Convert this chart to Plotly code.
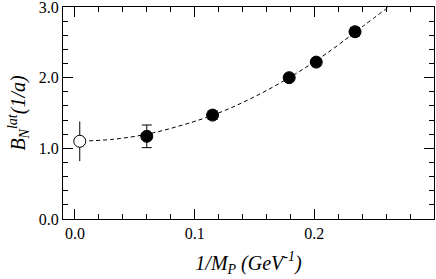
import plotly.graph_objects as go

# Data
x_open = [0.004]
y_open = [1.10]
err_open = [0.28]

x_lat = [0.060, 0.115, 0.179, 0.2016, 0.234]
y_lat = [1.17, 1.47, 2.00, 2.22, 2.65]
err_lat = [0.16, 0.06, 0.05, 0.05, 0.06]

# dashed fit curve
x_fit = [0.0, 0.03, 0.06, 0.09, 0.12, 0.15, 0.18, 0.21, 0.24, 0.262]
y_fit = [1.10, 1.125, 1.20, 1.33, 1.50, 1.73, 2.01, 2.34, 2.72, 3.0]

FONT = "Liberation Serif"

fig = go.Figure()
fig.add_trace(go.Scatter(x=x_fit, y=y_fit, mode="lines", line=dict(color="black", width=1, dash="4px,3px", shape="spline"),
                         showlegend=False, hoverinfo="skip"))
fig.add_trace(go.Scatter(x=x_open, y=y_open, mode="markers",
                         marker=dict(symbol="circle", size=12, color="white", line=dict(color="black", width=1)),
                         error_y=dict(type="data", array=err_open, color="black", thickness=1, width=0),
                         showlegend=False))
fig.add_trace(go.Scatter(x=x_lat, y=y_lat, mode="markers",
                         marker=dict(symbol="circle", size=12, color="black", line=dict(color="black", width=1)),
                         error_y=dict(type="data", array=err_lat, color="black", thickness=1, width=5),
                         showlegend=False))

fig.update_layout(
    width=436, height=279,
    margin=dict(l=63, r=2, t=7, b=60, autoexpand=False),
    plot_bgcolor="white", paper_bgcolor="white",
    font=dict(family=FONT, size=16, color="black"),
)
fig.update_xaxes(range=[-0.01, 0.30], tickvals=[0.0, 0.1, 0.2], ticktext=["0.0", "0.1", "0.2"],
                 ticks="inside", ticklen=10, tickwidth=1, tickcolor="black", automargin=False,
                 ticklabeloverflow="allow",
                 minor=dict(dtick=0.02, tick0=0, ticks="inside", ticklen=5, tickwidth=1, tickcolor="black"),
                 showline=True, linecolor="black", linewidth=1, mirror="ticks", showgrid=False, zeroline=False,
                 title=dict(text="<i>1/M<sub>P</sub> (GeV<sup>-1</sup>)</i>", font=dict(size=20), standoff=14))
fig.update_yaxes(range=[0, 3.0], tickvals=[0, 1, 2, 3], ticktext=["0.0", "1.0", "2.0", "3.0"],
                 ticks="inside", ticklen=10, tickwidth=1, tickcolor="black", automargin=False,
                 ticklabeloverflow="allow",
                 minor=dict(dtick=0.2, tick0=0, ticks="inside", ticklen=5, tickwidth=1, tickcolor="black"),
                 showline=True, linecolor="black", linewidth=1, mirror="ticks", showgrid=False, zeroline=False,
                 title=dict(text="<i>B<sub>N</sub><sup>lat</sup>(1/a)</i>", font=dict(size=20), standoff=7))

fig.write_html("out.html", config={"displayModeBar": False},
               post_script="document.body.style.margin='0';document.body.style.padding='0';")
